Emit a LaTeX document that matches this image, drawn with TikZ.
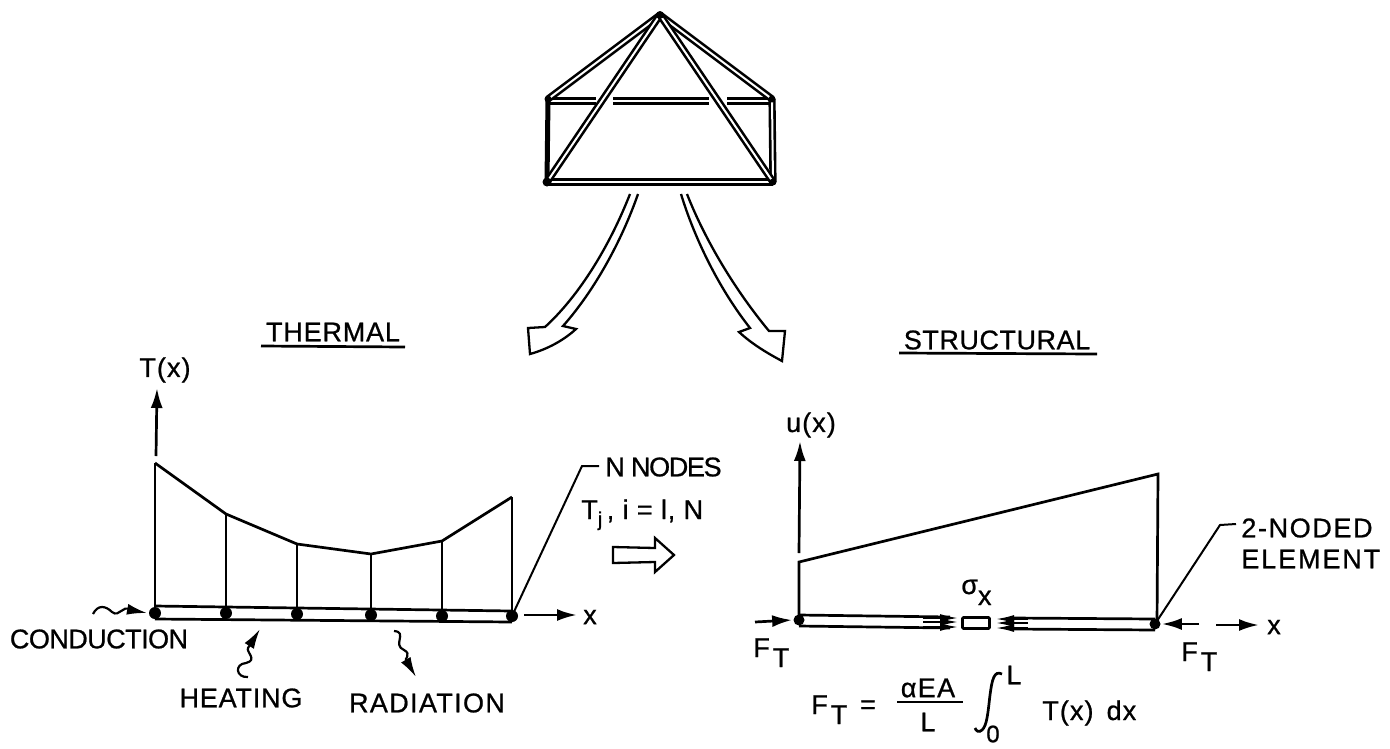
\documentclass[tikz,border=0pt]{standalone}
\usepackage{fontspec}
\setmainfont{Liberation Sans}[FakeBold=0.8]
\usepackage{tikz}
\usetikzlibrary{arrows.meta, positioning}
\newcommand{\FT}{F\hspace{3pt}\raisebox{-10pt}{T}}

\begin{document}
\begin{tikzpicture}[
   x=1pt, y=-1pt, >={Latex[length=20pt,width=12pt]}, line width=2.7pt,
   lab/.style={font=\fontsize{27}{30}\selectfont\addfontfeature{LetterSpace=#1}, inner sep=0pt, anchor=center},
   lab/.default=3,
   dot/.style={circle, fill, inner sep=0pt, minimum size=12pt},
   strut/.style={line width=2.6pt, double distance=2pt},
   hollow/.style={line width=2.3pt, line join=miter, fill=white},
   leader/.style={line width=2pt},
   small/.style={>={Latex[length=20pt,width=11pt]}, line width=2.2pt}]
  \useasboundingbox (0,0) rectangle (1390,748);
  % truss
  \coordinate (apex) at (660,15);
  \coordinate (tl) at (548,99);
  \coordinate (tr) at (772,99);
  \coordinate (bl) at (547,182);
  \coordinate (br) at (773,182);
  \draw[strut] (548,101) -- (596,101) (613,101) -- (709,101) (727,101) -- (772,101);
  \draw[strut] (bl) -- (br);
  \draw[strut] (br) -- (tr);
  \draw[line width=5pt, line cap=round] (tl) -- (bl);
  \draw[strut] (apex) -- (tl);
  \draw[strut] (apex) -- (tr);
  \draw[strut] (apex) -- (bl);
  \draw[strut] (apex) -- (br);
  \fill (apex) circle (4pt) (bl) circle (4.5pt) (br) circle (3.5pt) (tl) circle (3.5pt) (tr) circle (3.5pt);
  % big arrows
  \draw[hollow] (630,194) .. controls (610,245) and (580,295) .. (545,327) -- (528,328) -- (530,354)
     .. controls (548,349) and (564,340) .. (576,329) -- (563,326)
     .. controls (595,290) and (622,240) .. (638,194);
  \draw[hollow] (681,194) .. controls (695,240) and (720,290) .. (750,328) -- (739,332) .. controls (752,344) and (767,353) .. (782,361)
     -- (785,331) -- (769,331) .. controls (735,290) and (705,240) .. (687,194);
  \node[lab] (thermal) at (333,332) {THERMAL};
  \draw (261,346) -- (405,347);
  \node[lab=2] (structural) at (997,340) {STRUCTURAL};
  \draw (899,353) -- (1097,354);
  % thermal plot
  \node[lab=4] (Tx) at (165,370) {T(x)};
  \coordinate (c1) at (155,463);
  \coordinate (c2) at (226,514);
  \coordinate (c3) at (297,544);
  \coordinate (c4) at (371,554);
  \coordinate (c5) at (442,541);
  \coordinate (c6) at (512,497);
  \coordinate (Ttip) at (157,388);
  \draw[->] (156,456) -- (Ttip);
  \node[dot] (n1) at (155,613) {};
  \node[dot] (n2) at (226,613) {};
  \node[dot] (n3) at (297,614) {};
  \node[dot] (n4) at (371,615) {};
  \node[dot] (n5) at (442,616) {};
  \node[dot] (n6) at (512,616) {};
  \draw (c1) -- (c2) -- (c3) -- (c4) -- (c5) -- (c6);
  \foreach \i in {1,...,6} \draw (c\i) -- (n\i.center);
  \draw (155,606) -- (512,611);
  \draw (155,619) -- (512,622);
  \coordinate (xl) at (524,615);
  \coordinate (xr) at (577,615);
  \draw[->] (xl) -- (xr);
  \node[lab] (xA) at (590,617) {x};
  \coordinate (Nk) at (582,466);
  \coordinate (Ne) at (599,466);
  \draw[leader] (n6.center) -- (Nk) -- (Ne);
  \node[lab=-5, anchor=west] (nodes) at (604,467) {N NODES};
  \node[lab=3, anchor=base west] (Ti) at (580,519) {T\raisebox{-7pt}{\fontsize{20}{20}\selectfont j}\,, i = l, N};
  \draw[hollow] (613,547) -- (655,548) -- (655,538) -- (674,555) -- (655,572) -- (655,562) -- (613,563) -- cycle;
  % conduction, heating, radiation
  \coordinate (cs) at (93,614);
  \coordinate (hs) at (248,677);
  \coordinate (rs) at (394,631);
  \draw[small, ->] (cs) .. controls (98,604) and (106,606) .. (112,612) .. controls (120,618) and (122,604) .. (131,610) -- (147,613);
  \draw[small, ->] (hs) .. controls (236,678) and (234,664) .. (246,663) .. controls (258,660) and (246,652) .. (248,648) -- (260,629);
  \draw[small, ->] (rs) .. controls (408,632) and (392,645) .. (404,650) .. controls (412,654) and (404,660) .. (406,660) -- (416,677);
  \node[lab=-2] (cond) at (99,639) {CONDUCTION};
  \node[lab=3] (heat) at (241,698) {HEATING};
  \node[lab=5] (rad) at (427,703) {RADIATION};
  % structural plot
  \node[lab=4] (ux) at (811,425) {u(x)};
  \coordinate (u1) at (799,562);
  \coordinate (u2) at (1158,474);
  \coordinate (utip) at (800,441);
  \node[dot, minimum size=11pt] (e1) at (799,620) {};
  \node[dot, minimum size=11pt] (e2) at (1155,624) {};
  \draw[->] (799,553) -- (utip);
  \draw (e1.center) -- (u1) -- (u2) -- (1157,624);
  \draw (799,615) -- (950,617) (799,626) -- (950,628);
  \draw (1013,618) -- (1155,619) (1013,629) -- (1155,630);
  \node[draw, rounded corners=1pt, minimum width=27pt, minimum height=11pt, inner sep=0pt, fill=white] (elem) at (976,623) {};
  \foreach \y in {618,622,627} {
    \draw[->, line width=1.8pt, >={Latex[length=18pt,width=8pt]}] (923,\y) -- (958,\y);
    \draw[->, line width=1.8pt, >={Latex[length=18pt,width=8pt]}] (1028,\y+1) -- (996,\y+1);
  }
  \node[lab=0, anchor=base west] (sig) at (960,594) {σ\raisebox{-11pt}{x}};
  \coordinate (fl) at (755,622);
  \coordinate (fr) at (1199,624);
  \draw[->] (fl) -- (e1.west);
  \draw[->] (fr) -- (e2.east);
  \coordinate (yl) at (1216,625);
  \coordinate (yr) at (1259,625);
  \draw[->] (yl) -- (yr);
  \node[lab] (xB) at (1274,627) {x};
  \node[lab=0, anchor=base west] (ftl) at (752,657) {\FT};
  \node[lab=0, anchor=base west] (ftr) at (1180,661) {\FT};
  \coordinate (Ek) at (1220,525);
  \coordinate (Ee) at (1236,524);
  \draw[leader] (e2.center) -- (Ek) -- (Ee);
  \node[lab=6, anchor=west] (two) at (1240,528) {2-NODED};
  \node[lab=7, anchor=west] (elm) at (1240,559) {ELEMENT};
  % formula
  \node[lab=0, anchor=base west] (ftf) at (810,714) {\FT};
  \node[lab] (eq) at (868,707) {=};
  \node[lab=5] (num) at (928,688) {αEA};
  \draw (897,702) -- (963,702);
  \node[lab] (den) at (928,722) {L};
  \draw (1002,674) .. controls (994,670) and (992,680) .. (990,695) .. controls (988,712) and (987,726) .. (982,730) .. controls (979,733) and (976,731) .. (975,728);
  \node[lab] (up) at (1014,675) {L};
  \node[lab=0, font=\fontsize{24}{24}\selectfont] (lo) at (993,734) {0};
  \node[lab=4, anchor=west] (int) at (1041,713) {T(x)\, dx};
\end{tikzpicture}
\end{document}
